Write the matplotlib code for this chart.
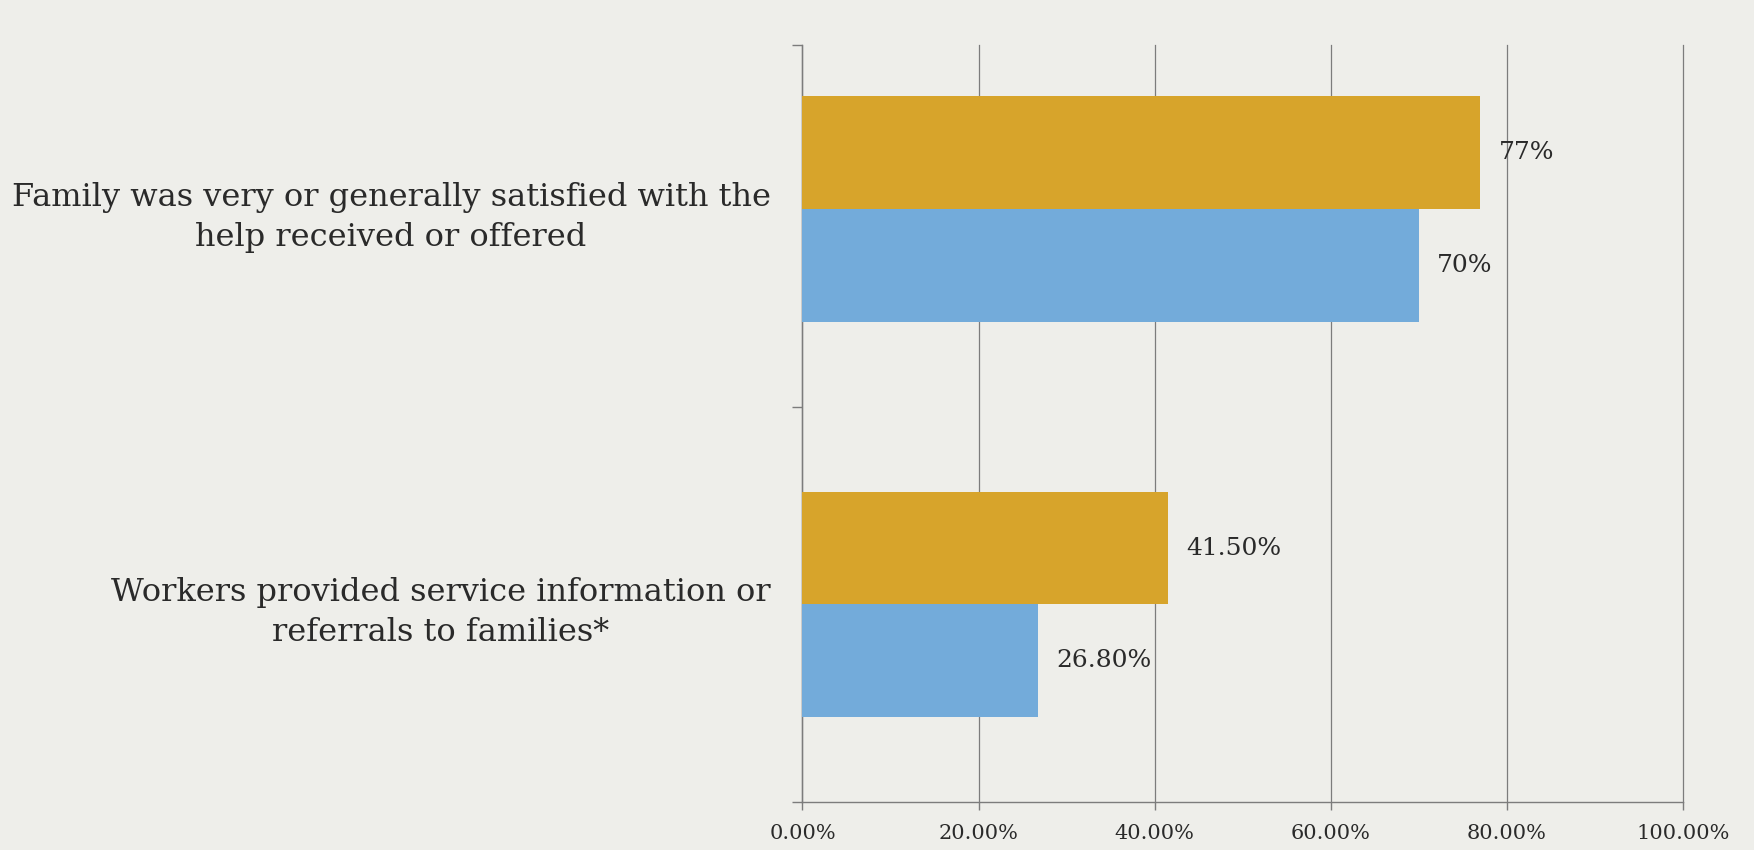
import numpy as np
import matplotlib
matplotlib.use("Agg")
import matplotlib.pyplot as plt
from matplotlib.ticker import FixedLocator

# survey measures, top to bottom
categories = [
    "Family was very or generally satisfied with the\nhelp received or offered",
    "Workers provided service information or\nreferrals to families*",
]
gold_values = [77.0, 41.5]
blue_values = [70.0, 26.8]
gold_labels = ["77%", "41.50%"]
blue_labels = ["70%", "26.80%"]
x_ticks = [0, 20, 40, 60, 80, 100]
x_tick_labels = ["0.00%", "20.00%", "40.00%", "60.00%", "80.00%", "100.00%"]

BG = "#EEEEEA"
GOLD = "#D7A42B"
BLUE = "#73ABDA"
GRID = "#7C7C7C"
TEXT = "#2A2A2A"

plt.rcParams["font.family"] = ["DejaVu Serif"]

fig = plt.figure(figsize=(17.54, 8.5), dpi=100, facecolor=BG)
ax = fig.add_axes([0.4575, 0.0565, 0.502, 0.8905], facecolor=BG)

# first category drawn at the top
ypos = np.arange(len(categories))[::-1].astype(float)
h = 0.285

gold = ax.barh(ypos + h / 2, gold_values, height=h, color=GOLD, zorder=3)
blue = ax.barh(ypos - h / 2, blue_values, height=h, color=BLUE, zorder=3)
ax.bar_label(gold, labels=gold_labels, padding=13, fontsize=18, color=TEXT)
ax.bar_label(blue, labels=blue_labels, padding=13, fontsize=18, color=TEXT)

ax.set_xlim(0, 100)
ax.set_ylim(-0.5, 1.415)

ax.set_xticks(x_ticks)
ax.set_xticklabels(x_tick_labels, fontsize=15, color=TEXT)
ax.tick_params(axis="x", length=6, width=1, color=GRID, pad=10)
ax.xaxis.grid(True, color=GRID, linewidth=0.9, zorder=0)
for gl in ax.get_xgridlines():
    gl.set_clip_on(False)

# category names on major ticks, boundary marks on minor ticks
ax.set_yticks(ypos)
ax.set_yticklabels(categories, fontsize=23, color=TEXT, linespacing=1.38)
for lbl in ax.get_yticklabels():
    lbl.set_multialignment("center")
ax.tick_params(axis="y", which="major", length=0, pad=23)
ax.yaxis.set_minor_locator(FixedLocator([-0.5, 0.5, 1.415]))
ax.tick_params(axis="y", which="minor", length=7, width=1, color=GRID)

for side in ("top", "right"):
    ax.spines[side].set_visible(False)
for side in ("left", "bottom"):
    ax.spines[side].set_color(GRID)
    ax.spines[side].set_linewidth(1)

fig.savefig("out.png", dpi=100, facecolor=BG)
